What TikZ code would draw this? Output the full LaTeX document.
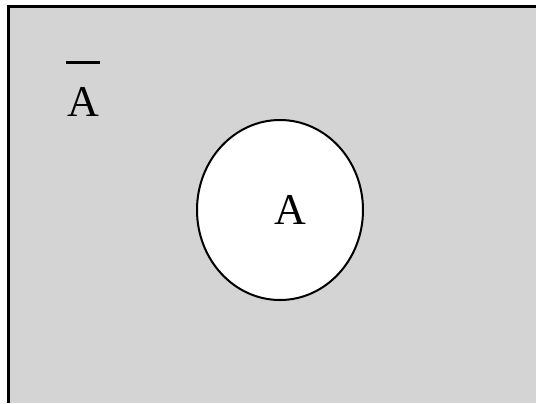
\documentclass[tikz,border=0pt]{standalone}
\usepackage{fontspec}
\setmainfont{Liberation Serif}
\usepackage{xcolor}
\usepackage{tikz}
\usetikzlibrary{shapes.geometric}
\definecolor{pgray}{HTML}{D4D4D4}
\tikzset{
  % universe and the set drawn inside it
  univ/.style  = {fill=pgray},
  frame/.style = {draw=black, line width=1.5pt},
  setA/.style  = {ellipse, draw=black, fill=white, line width=1pt, inner sep=0pt,
                  minimum width=83pt, minimum height=90pt},
  lbl/.style   = {font=\fontsize{22}{26}\selectfont, inner sep=0pt, align=center},
}
\begin{document}
\begin{tikzpicture}[x=0.5pt,y=-0.5pt]
\useasboundingbox (0,0) rectangle (536,403);
% universe
\fill[univ] (8.5,6.5) rectangle (536,403);
\draw[frame] (536,6.5) -- (8.5,6.5) -- (8.5,403);
% set A
\node[setA] (sa) at (280,210) {};
\node[lbl] (la) at (290,210) {A};
% complement
\node[lbl, anchor=base] (lc) at (83,116) {\rule{17pt}{1.4pt}\\[0pt]A};
\end{tikzpicture}
\end{document}
